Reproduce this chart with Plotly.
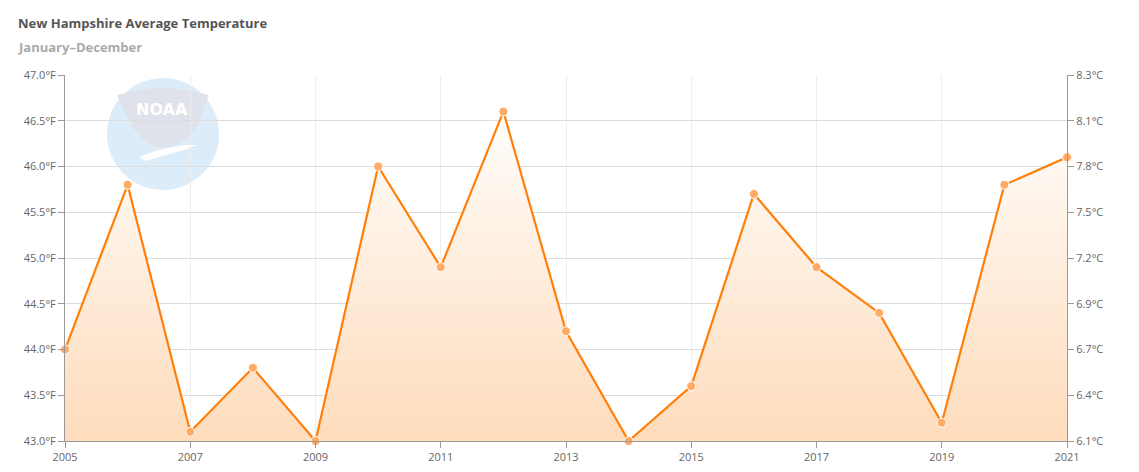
import plotly.graph_objects as go

years = list(range(2005, 2022))
temps_f = [44.0, 45.8, 43.1, 43.8, 43.0, 46.0, 44.9, 46.6, 44.2, 43.0,
           43.6, 45.7, 44.9, 44.4, 43.2, 45.8, 46.1]
f_ticks = [43.0, 43.5, 44.0, 44.5, 45.0, 45.5, 46.0, 46.5, 47.0]
c_tick_labels = ["6.1°C", "6.4°C", "6.7°C", "6.9°C", "7.2°C", "7.5°C", "7.8°C", "8.1°C", "8.3°C"]
x_ticks = [2005, 2007, 2009, 2011, 2013, 2015, 2017, 2019, 2021]

OFF = 8  # default page body margin
W, H = 1139 - 2 * OFF, 472 - 2 * OFF
# plot area in screen pixels
L, R, T, B = 65, 1067, 75, 441

def px(x):
    return (x - L) / (R - L)

def py(y):
    return (B - y) / (B - T)

fig = go.Figure()
fig.add_trace(go.Scatter(
    x=years, y=temps_f, mode="lines+markers",
    line=dict(color="#ff7f0a", width=2.2),
    marker=dict(color="#ffab66", size=9, line=dict(color="white", width=1)),
    fill="tozeroy",
    fillgradient=dict(type="vertical", start=43.0, stop=46.8,
                      colorscale=[[0, "#fedcbc"], [1, "#ffffff"]]),
    cliponaxis=False, hoverinfo="x+y", showlegend=False,
))
fig.add_trace(go.Scatter(x=years, y=temps_f, yaxis="y2", mode="none",
                         showlegend=False, hoverinfo="skip"))

# NOAA watermark
cx, cy, r = 163, 134, 56
shapes = [dict(type="circle", xref="paper", yref="paper", layer="below",
               x0=px(cx - r), x1=px(cx + r), y0=py(cy + r), y1=py(cy - r),
               fillcolor="#dcecf8", line=dict(width=0))]
grey_pts = [(117, 95), (130, 92), (146, 89), (163, 88), (180, 89), (196, 92), (209, 95),
            (206, 102), (202, 114), (197, 126), (190, 136), (180, 143), (168, 147),
            (156, 147), (145, 141), (136, 132), (128, 118), (121, 104)]
path = "M " + " L ".join(f"{px(a):.5f},{py(b):.5f}" for a, b in grey_pts) + " Z"
shapes.append(dict(type="path", path=path, xref="paper", yref="paper", layer="below",
                   fillcolor="#dfe2ea", line=dict(width=0)))
wing = [(139, 157), (158, 150), (184, 145), (197, 145), (187, 149), (163, 156), (146, 161)]
path2 = "M " + " L ".join(f"{px(a):.5f},{py(b):.5f}" for a, b in wing) + " Z"
shapes.append(dict(type="path", path=path2, xref="paper", yref="paper", layer="below",
                   fillcolor="#ffffff", line=dict(width=0)))

axis_common = dict(showline=True, linecolor="#999999", linewidth=1,
                   ticks="outside", ticklen=6, tickcolor="#999999", zeroline=False,
                   automargin=False,
                   tickfont=dict(size=11, color="#666666"))

fig.update_layout(
    width=W, height=H,
    margin=dict(l=L - OFF, r=W - (R - OFF), t=T - OFF, b=H - (B - OFF), pad=0),
    paper_bgcolor="white", plot_bgcolor="white",
    font=dict(family="Open Sans, sans-serif", color="#666666", size=11),
    shapes=shapes,
    xaxis=dict(range=[2005, 2021], tickvals=x_ticks, ticktext=[str(v) for v in x_ticks],
               showgrid=True, gridcolor="#eeeeee", gridwidth=1, **axis_common),
    yaxis=dict(range=[43, 47], tickvals=f_ticks,
               ticktext=[f"{v:.1f}°F" for v in f_ticks],
               showgrid=True, gridcolor="#dddddd", gridwidth=1, **axis_common),
    yaxis2=dict(range=[43, 47], tickvals=f_ticks, ticktext=c_tick_labels,
                overlaying="y", side="right", showgrid=False, **axis_common),
    annotations=[
        dict(text="<b>NOAA</b>", x=px(162), y=py(109), xref="paper", yref="paper",
             showarrow=False, font=dict(family="DejaVu Sans", size=16, color="#ffffff"),
             xanchor="center", yanchor="middle"),
        dict(text="<b>New Hampshire Average Temperature</b>", x=px(16), y=py(23),
             xref="paper", yref="paper", xanchor="left", yanchor="middle", showarrow=False,
             font=dict(family="Open Sans, sans-serif", size=13, color="#555555")),
        dict(text="<b>January–December</b>", x=px(16), y=py(47),
             xref="paper", yref="paper", xanchor="left", yanchor="middle", showarrow=False,
             font=dict(family="Open Sans, sans-serif", size=13, color="#aaaaaa")),
    ],
)

fig.write_html("out.html")
